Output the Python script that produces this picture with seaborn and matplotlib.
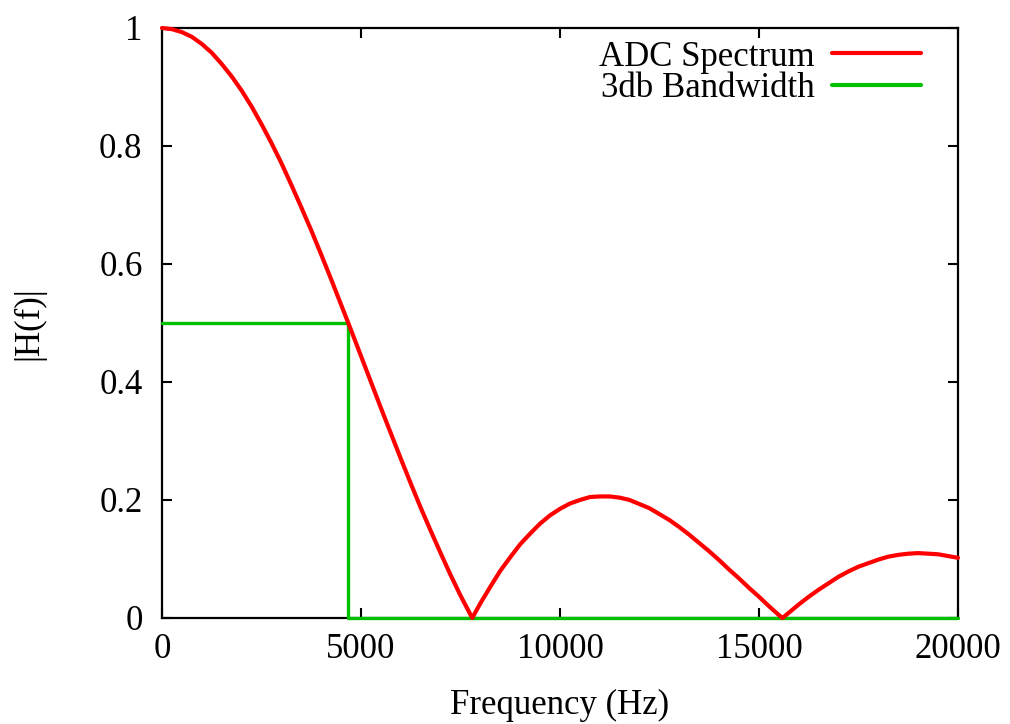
import matplotlib
matplotlib.use("Agg")
import matplotlib.pyplot as plt
import seaborn as sns
import pandas as pd

# ADC spectrum |H(f)|
freq_hz = [0, 250, 500, 750, 1000, 1250, 1500, 1750, 2000, 2250, 2500, 2750,
           3000, 3250, 3500, 3750, 4000, 4250, 4500, 4750, 5000, 5250, 5500,
           5750, 6000, 6250, 6500, 6750, 7000, 7250, 7500, 7795, 8000, 8250,
           8500, 8750, 9000, 9250, 9500, 9750, 10000, 10250, 10500, 10750,
           11000, 11250, 11500, 11750, 12000, 12250, 12500, 12750, 13000,
           13250, 13500, 13750, 14000, 14250, 14500, 14750, 15000, 15250,
           15500, 15590, 15750, 16000, 16250, 16500, 16750, 17000, 17250,
           17500, 17750, 18000, 18250, 18500, 18750, 19000, 19250, 19500,
           19750, 20000]
magnitude = [1.000, 0.998, 0.993, 0.985, 0.973, 0.958, 0.939, 0.918, 0.894,
             0.867, 0.837, 0.805, 0.771, 0.734, 0.696, 0.657, 0.616, 0.574,
             0.531, 0.488, 0.444, 0.400, 0.356, 0.313, 0.270, 0.228, 0.187,
             0.148, 0.110, 0.073, 0.038, 0.000, 0.025, 0.053, 0.080, 0.103,
             0.125, 0.143, 0.160, 0.174, 0.185, 0.194, 0.200, 0.205, 0.206,
             0.206, 0.204, 0.200, 0.193, 0.186, 0.176, 0.166, 0.154, 0.141,
             0.127, 0.113, 0.098, 0.082, 0.067, 0.051, 0.036, 0.020, 0.005,
             0.000, 0.009, 0.023, 0.036, 0.048, 0.059, 0.070, 0.079, 0.087,
             0.093, 0.099, 0.104, 0.107, 0.109, 0.110, 0.109, 0.108, 0.105,
             0.102]

# 3 dB bandwidth marker
bw_freq = [0, 4681, 4681, 20000]
bw_mag = [0.5, 0.5, 0.0, 0.0]

series_labels = ["ADC Spectrum", "3db Bandwidth"]
x_ticks = [0, 5000, 10000, 15000, 20000]
y_ticks = [0, 0.2, 0.4, 0.6, 0.8, 1.0]
y_tick_labels = ["0", "0.2", "0.4", "0.6", "0.8", "1"]

sns.set_theme(style="white")
plt.rcParams["font.family"] = ["Liberation Serif", "DejaVu Serif"]
plt.rcParams["font.size"] = 25
plt.rcParams["text.color"] = "black"
plt.rcParams["axes.labelcolor"] = "black"
plt.rcParams["xtick.color"] = "black"
plt.rcParams["ytick.color"] = "black"

fig = plt.figure(figsize=(10.10, 7.24), dpi=100)
ax = fig.add_axes([162 / 1010, 1 - 618 / 724, (958 - 162) / 1010, (618 - 28) / 724])

df_spec = pd.DataFrame({"f": freq_hz, "h": magnitude})
df_bw = pd.DataFrame({"f": bw_freq, "h": bw_mag})

sns.lineplot(data=df_spec, x="f", y="h", ax=ax, color="#ff0000", linewidth=3.0,
             label=series_labels[0], sort=False, estimator=None,
             clip_on=False, zorder=4)
sns.lineplot(data=df_bw, x="f", y="h", ax=ax, color="#00c000", linewidth=2.4,
             label=series_labels[1], sort=False, estimator=None,
             clip_on=False, zorder=3)

ax.set_xlim(0, 20000)
ax.set_ylim(0, 1)
ax.set_xticks(x_ticks)
ax.set_xticklabels([str(t) for t in x_ticks])
ax.set_yticks(y_ticks)
ax.set_yticklabels(y_tick_labels)

ax.tick_params(direction="in", length=7, width=1.5, top=True, right=True,
               bottom=True, left=True, labelsize=25, colors="black",
               labelcolor="black")
ax.tick_params(axis="x", pad=11)
ax.tick_params(axis="y", pad=14)
for s in ax.spines.values():
    s.set_color("black")
    s.set_linewidth(1.6)
    s.set_visible(True)

ax.set_xlabel("Frequency (Hz)", fontsize=25, labelpad=16, color="black")
ax.set_ylabel("|H(f)|", fontsize=25, labelpad=39, color="black")

leg = ax.legend(loc="upper right", bbox_to_anchor=(0.975, 1.008),
                frameon=False, markerfirst=False,
                fontsize=25, handlelength=2.55, handletextpad=0.5,
                labelspacing=-0.05, borderaxespad=0.2, borderpad=0.3,
                labelcolor="black")
for line in leg.get_lines():
    line.set_linewidth(3.0)

fig.savefig("out.png", dpi=100, facecolor="white")
